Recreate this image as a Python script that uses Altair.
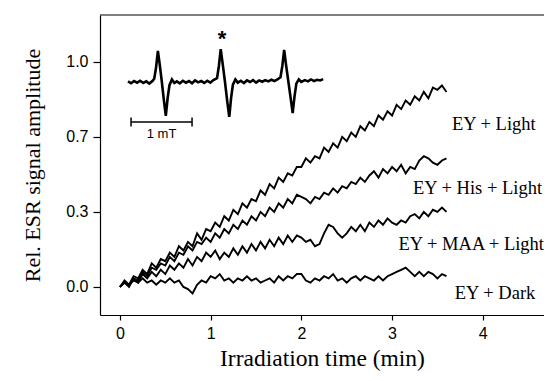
import json
import altair as alt
import pandas as pd

# ---------------- main kinetics data (time in min, relative amplitude) ----------------
TIME = [0.00, 0.05, 0.10, 0.15, 0.20, 0.25, 0.30, 0.35, 0.40, 0.45, 0.50, 0.55, 0.60, 0.65,
        0.70, 0.75, 0.80, 0.85, 0.90, 0.95, 1.00, 1.05, 1.10, 1.15, 1.20, 1.25, 1.30, 1.35,
        1.40, 1.45, 1.50, 1.55, 1.60, 1.65, 1.70, 1.75, 1.80, 1.85, 1.90, 1.95, 2.00, 2.05,
        2.10, 2.15, 2.20, 2.25, 2.30, 2.35, 2.40, 2.45, 2.50, 2.55, 2.60, 2.65, 2.70, 2.75,
        2.80, 2.85, 2.90, 2.95, 3.00, 3.05, 3.10, 3.15, 3.20, 3.25, 3.30, 3.35, 3.40, 3.45,
        3.50, 3.55, 3.60]

EY_LIGHT = [0.00, 0.03, 0.01, 0.05, 0.04, 0.08, 0.06, 0.11, 0.09, 0.13, 0.12, 0.16, 0.14, 0.19,
            0.17, 0.21, 0.19, 0.25, 0.22, 0.27, 0.26, 0.30, 0.28, 0.33, 0.31, 0.36, 0.34, 0.39,
            0.37, 0.41, 0.40, 0.45, 0.43, 0.48, 0.46, 0.51, 0.49, 0.53, 0.52, 0.56, 0.56, 0.60,
            0.58, 0.61, 0.60, 0.65, 0.63, 0.67, 0.65, 0.70, 0.68, 0.72, 0.70, 0.75, 0.73, 0.77,
            0.75, 0.80, 0.78, 0.82, 0.80, 0.85, 0.83, 0.87, 0.85, 0.89, 0.87, 0.91, 0.88, 0.93,
            0.92, 0.94, 0.91]

EY_HIS_LIGHT = [0.00, 0.02, 0.01, 0.04, 0.03, 0.07, 0.05, 0.09, 0.08, 0.11, 0.10, 0.14, 0.12, 0.16,
                0.15, 0.19, 0.17, 0.21, 0.20, 0.23, 0.21, 0.25, 0.23, 0.27, 0.25, 0.29, 0.27, 0.31,
                0.29, 0.33, 0.31, 0.35, 0.33, 0.37, 0.35, 0.39, 0.37, 0.41, 0.39, 0.43, 0.42, 0.41,
                0.39, 0.42, 0.41, 0.44, 0.43, 0.46, 0.44, 0.47, 0.46, 0.49, 0.48, 0.51, 0.49, 0.52,
                0.54, 0.51, 0.55, 0.53, 0.56, 0.54, 0.57, 0.53, 0.56, 0.55, 0.59, 0.61, 0.60, 0.58,
                0.57, 0.59, 0.60]

EY_MAA_LIGHT = [0.00, 0.02, 0.00, 0.04, 0.02, 0.06, 0.04, 0.07, 0.05, 0.08, 0.06, 0.10, 0.08, 0.11,
                0.09, 0.13, 0.10, 0.14, 0.12, 0.16, 0.14, 0.17, 0.13, 0.16, 0.14, 0.18, 0.15, 0.19,
                0.16, 0.20, 0.17, 0.21, 0.18, 0.22, 0.19, 0.23, 0.20, 0.24, 0.21, 0.24, 0.23, 0.21,
                0.22, 0.19, 0.20, 0.25, 0.29, 0.28, 0.25, 0.23, 0.25, 0.28, 0.26, 0.29, 0.26, 0.30,
                0.28, 0.31, 0.29, 0.32, 0.30, 0.29, 0.31, 0.30, 0.33, 0.34, 0.32, 0.35, 0.33, 0.36,
                0.35, 0.37, 0.35]

EY_DARK = [0.00, 0.02, 0.01, 0.03, 0.02, 0.04, 0.02, 0.03, 0.01, 0.03, 0.02, 0.04, 0.02, 0.03,
           0.00, -0.01, -0.03, 0.01, 0.03, 0.02, 0.05, 0.04, 0.06, 0.03, 0.04, 0.02, 0.04, 0.03,
           0.05, 0.03, 0.04, 0.02, 0.03, 0.04, 0.02, 0.05, 0.03, 0.05, 0.04, 0.06, 0.06, 0.03,
           0.02, 0.04, 0.03, 0.05, 0.04, 0.06, 0.03, 0.04, 0.02, 0.04, 0.05, 0.03, 0.05, 0.04,
           0.03, 0.05, 0.03, 0.05, 0.06, 0.07, 0.08, 0.09, 0.07, 0.05, 0.07, 0.05, 0.07, 0.06,
           0.04, 0.06, 0.05]

SERIES = ["EY + Light", "EY + His + Light", "EY + MAA + Light", "EY + Dark"]
SERIES_VALUES = [EY_LIGHT, EY_HIS_LIGHT, EY_MAA_LIGHT, EY_DARK]
LABEL_T = [3.66, 3.23, 3.07, 3.69]
LABEL_V = [0.76, 0.46, 0.20, -0.03]

X_TICKS = [0, 1, 2, 3, 4]
Y_TICKS = [0, 0.35, 0.7, 1.05]
Y_TICK_LABELS = ["0.0", "0.3", "0.7", "1.0"]

# ---------------- inset ESR spectrum (field in mT, derivative signal) ----------------
INSET_B = [0.00, 0.05, 0.10, 0.15, 0.20, 0.25, 0.30, 0.35, 0.40,
           0.43, 0.46, 0.49, 0.52, 0.555, 0.59, 0.62, 0.65, 0.68, 0.72, 0.76,
           0.80, 0.85, 0.90, 0.95, 1.00, 1.05, 1.10, 1.15, 1.20, 1.25, 1.30, 1.35, 1.40,
           1.46, 1.49, 1.52, 1.55, 1.59, 1.63, 1.66, 1.69, 1.72, 1.76, 1.80,
           1.85, 1.90, 1.95, 2.00, 2.05, 2.10, 2.15, 2.20, 2.25, 2.30, 2.35, 2.40, 2.45,
           2.50, 2.53, 2.56, 2.59, 2.63, 2.67, 2.70, 2.73, 2.76, 2.80, 2.84,
           2.90, 2.95, 3.00, 3.05, 3.10, 3.15, 3.20]
INSET_S = [0.02, -0.04, 0.03, -0.02, 0.04, -0.03, 0.02, -0.05, 0.03,
           0.10, 0.45, 0.97, 0.55, 0.00, -0.60, -1.06, -0.50, -0.10, 0.08, -0.03,
           0.02, -0.04, 0.04, -0.02, 0.03, -0.04, 0.05, -0.01, 0.03, -0.03, 0.04, -0.02, 0.06,
           0.12, 0.50, 1.03, 0.60, 0.00, -0.65, -1.09, -0.50, -0.08, 0.08, -0.02,
           0.04, -0.03, 0.05, 0.00, 0.06, -0.02, 0.05, 0.01, 0.06, 0.02, 0.07, 0.03, 0.08,
           0.15, 0.50, 1.00, 0.55, 0.00, -0.55, -0.97, -0.45, -0.05, 0.08, 0.00,
           0.06, 0.02, 0.08, 0.03, 0.07, 0.05, 0.09]
SCALEBAR_B = [0.05, 1.05]
SCALEBAR_S = -1.25
SCALEBAR_LABEL = "1 mT"
STAR_B = 1.54
STAR_S = 1.35

# ---------------- build tables ----------------
rows = []
for name, vals in zip(SERIES, SERIES_VALUES):
    for t, v in zip(TIME, vals):
        rows.append({"t": t, "v": v, "series": name})
df = pd.DataFrame(rows)
labels_df = pd.DataFrame({"t": LABEL_T, "v": LABEL_V, "label": SERIES})

inset_df = pd.DataFrame({"B": INSET_B, "S": INSET_S, "order": list(range(len(INSET_B)))})
bar_df = pd.DataFrame({"B": [SCALEBAR_B[0]], "B2": [SCALEBAR_B[1]], "S": [SCALEBAR_S]})
caps_df = pd.DataFrame({"B": SCALEBAR_B, "S": [SCALEBAR_S - 0.14] * 2, "S2": [SCALEBAR_S + 0.14] * 2})
bar_label_df = pd.DataFrame({"B": [(SCALEBAR_B[0] + SCALEBAR_B[1]) / 2], "S": [SCALEBAR_S - 0.2],
                             "txt": [SCALEBAR_LABEL]})
star_df = pd.DataFrame({"B": [STAR_B], "S": [STAR_S], "txt": ["*"]})

label_map = json.dumps({str(k) if k != 0 else "0": l for k, l in zip(Y_TICKS, Y_TICK_LABELS)})

xs = alt.Scale(domain=[-0.22, 4.675], nice=False, zero=False)
ys = alt.Scale(domain=[-0.131, 1.269], nice=False, zero=False)

lines = alt.Chart(df).mark_line(color="black", strokeWidth=1.9).encode(
    x=alt.X("t:Q", scale=xs, axis=alt.Axis(values=X_TICKS, title="Irradiation time (min)",
                                           format="d", tickSize=5, labelPadding=5, titlePadding=5,
                                           titleFontSize=23.5)),
    y=alt.Y("v:Q", scale=ys, axis=alt.Axis(values=Y_TICKS, title="Rel. ESR signal amplitude",
                                           labelExpr=f"{label_map}[toString(datum.value)]",
                                           tickSize=7, labelPadding=5, titlePadding=21,
                                           titleFontSize=22)),
    detail="series:N",
)
labels = alt.Chart(labels_df).mark_text(align="left", baseline="middle", font="Liberation Serif",
                                        fontSize=18.5, color="black").encode(
    x=alt.X("t:Q", scale=xs), y=alt.Y("v:Q", scale=ys), text="label:N")
top_rule = alt.Chart(pd.DataFrame({"a": [0]})).mark_rule(color="black", strokeWidth=1.2).encode(
    x=alt.value(0), x2=alt.value(444), y=alt.value(0))
main = alt.layer(lines, labels, top_rule)

bs = alt.Scale(domain=[-0.459, 6.82], nice=False, zero=False)
ss = alt.Scale(domain=[-7.28, 2.094], nice=False, zero=False)
trace = alt.Chart(inset_df).mark_line(color="black", strokeWidth=2.6).encode(
    x=alt.X("B:Q", scale=bs, axis=None), y=alt.Y("S:Q", scale=ss, axis=None), order="order:Q")
bar = alt.Chart(bar_df).mark_rule(color="black", strokeWidth=1.5).encode(
    x=alt.X("B:Q", scale=bs, axis=None), x2="B2:Q", y=alt.Y("S:Q", scale=ss, axis=None))
caps = alt.Chart(caps_df).mark_rule(color="black", strokeWidth=1.5).encode(
    x=alt.X("B:Q", scale=bs, axis=None), y=alt.Y("S:Q", scale=ss, axis=None), y2="S2:Q")
bar_label = alt.Chart(bar_label_df).mark_text(baseline="top", font="Liberation Sans", fontSize=13,
                                              color="black").encode(
    x=alt.X("B:Q", scale=bs, axis=None), y=alt.Y("S:Q", scale=ss, axis=None), text="txt:N")
star = alt.Chart(star_df).mark_text(baseline="middle", font="Liberation Sans", fontSize=22,
                                    fontWeight="bold", color="black").encode(
    x=alt.X("B:Q", scale=bs, axis=None), y=alt.Y("S:Q", scale=ss, axis=None), text="txt:N")
inset = alt.layer(trace, bar, caps, bar_label, star)

chart = alt.layer(main, inset).resolve_scale(x="independent", y="independent").properties(
    width=444, height=300,
    padding={"left": 92, "top": 7, "right": 0, "bottom": 58},
    autosize=alt.AutoSizeParams(type="none"),
).configure_view(stroke=None).configure_axis(
    grid=False, domainColor="black", domainWidth=1.2, tickColor="black", tickWidth=1.2,
    labelFont="Liberation Sans", labelFontSize=16, labelColor="black",
    titleFont="Liberation Serif", titleFontWeight="normal", titleColor="black",
)

chart.save("out.html", embed_options={"renderer": "svg", "actions": False})
